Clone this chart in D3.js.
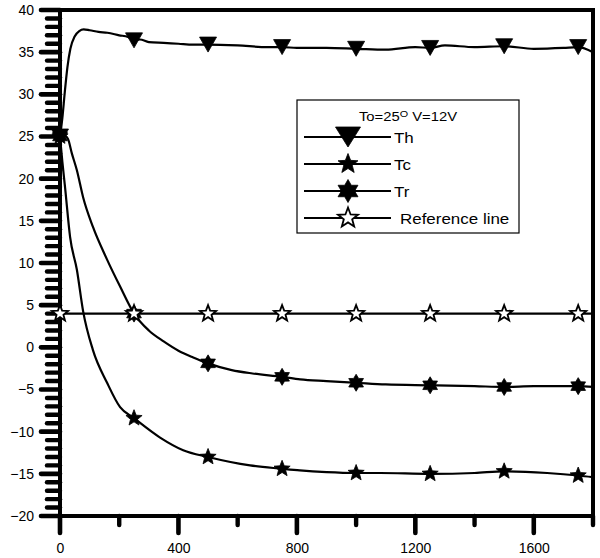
<!DOCTYPE html>
<html>
<head>
<meta charset="utf-8">
<script src="https://cdn.jsdelivr.net/npm/d3@7"></script>
<style>
  html, body { margin: 0; padding: 0; background: #fff; }
  svg { display: block; font-family: "Liberation Sans", Arial, sans-serif; }
</style>
</head>
<body>
<svg id="chart" width="600" height="558"></svg>
<script>
// Temperature histories (time, °C)
const thTime = [0, 8, 16, 25, 35, 50, 65, 80, 100, 130, 160, 200, 230, 250, 270, 300, 350, 400, 450, 500, 600, 700, 750, 800, 900, 1000, 1100, 1200, 1250, 1300, 1400, 1500, 1600, 1700, 1750, 1800];
const thVals = [25, 27.2, 30.2, 33.2, 35.4, 36.9, 37.5, 37.7, 37.6, 37.4, 37.3, 37.0, 36.8, 36.4, 36.5, 36.2, 36.1, 36.0, 35.9, 35.9, 35.8, 35.6, 35.6, 35.5, 35.5, 35.4, 35.3, 35.6, 35.5, 35.8, 35.6, 35.7, 35.4, 35.5, 35.6, 35.0];

const trTime = [0, 15, 27, 40, 57, 78, 111, 159, 203, 250, 300, 350, 400, 450, 500, 580, 650, 750, 811, 900, 1000, 1100, 1250, 1400, 1500, 1600, 1750, 1800];
const trVals = [25, 25.1, 24.7, 23.0, 21.0, 17.8, 14.3, 10.4, 7.2, 4.0, 2.0, 0.7, -0.4, -1.2, -1.9, -2.7, -3.1, -3.5, -3.8, -4.0, -4.2, -4.4, -4.5, -4.6, -4.7, -4.6, -4.6, -4.7];

const tcTime = [0, 8, 17, 34, 57, 78, 111, 159, 203, 250, 338, 416, 500, 642, 750, 810, 900, 1000, 1081, 1250, 1400, 1500, 1645, 1750, 1800];
const tcVals = [25, 22.0, 19.0, 13.1, 9.2, 4.3, -0.3, -4.2, -7.1, -8.4, -10.7, -12.2, -13.0, -14.0, -14.4, -14.6, -14.8, -14.9, -14.9, -15.0, -14.9, -14.7, -14.9, -15.2, -15.4];

const refTime = [0, 1800];
const refVals = [4, 4];

const markerTimes = [0, 250, 500, 750, 1000, 1250, 1500, 1750];

const xMajorTicks = [0, 400, 800, 1200, 1600];
const xMinorTicks = [200, 600, 1000, 1400, 1800];
const yMajorTicks = [-20, -15, -10, -5, 0, 5, 10, 15, 20, 25, 30, 35, 40];
const yMinorTicks = d3.range(-20, 41, 1).filter(v => v % 5 !== 0);

const legendTitle = "To=25";
const legendTitleSup = "O";
const legendTitleRest = " V=12V";
const seriesNames = ["Th", "Tc", "Tr", "Reference line"];

const svg = d3.select("#chart");
const x = d3.scaleLinear().domain([0, 1800]).range([60, 593]);
const y = d3.scaleLinear().domain([-20, 40]).range([516, 10]);

// marker shapes
function polyPath(pts) {
  return "M" + pts.map(p => p[0].toFixed(2) + "," + p[1].toFixed(2)).join("L") + "Z";
}
function triDown(w, h) {
  return polyPath([[-w / 2, -h / 2], [w / 2, -h / 2], [0, h / 2]]);
}
function star(n, R, r) {
  const pts = [];
  for (let i = 0; i < 2 * n; i++) {
    const a = -Math.PI / 2 + i * Math.PI / n;
    const rad = i % 2 === 0 ? R : r;
    pts.push([rad * Math.cos(a), rad * Math.sin(a)]);
  }
  return polyPath(pts);
}

const series = [
  { name: seriesNames[0], t: thTime, v: thVals, shape: triDown(17, 15), legendShape: triDown(25, 20), fill: "#000", tx: 394 },
  { name: seriesNames[1], t: tcTime, v: tcVals, shape: star(5, 8.5, 3.7), legendShape: star(5, 10.5, 4.5), fill: "#000", tx: 394 },
  { name: seriesNames[2], t: trTime, v: trVals, shape: star(6, 8.5, 5.0), legendShape: star(6, 11.5, 6.6), fill: "#000", tx: 394 },
  { name: seriesNames[3], t: refTime, v: refVals, shape: star(5, 8.5, 3.6), legendShape: star(5, 10.5, 4.4), fill: "#fff", tx: 400 }
];

// tick marks (thick, rounded)
const ticks = svg.append("g").attr("stroke", "#000").attr("stroke-linecap", "round");
ticks.append("g").attr("stroke-width", 4.4).selectAll("line").data(yMinorTicks).join("line")
  .attr("x1", x(0) - 13).attr("x2", x(0)).attr("y1", d => y(d)).attr("y2", d => y(d));
ticks.append("g").attr("stroke-width", 4.6).selectAll("line").data(yMajorTicks).join("line")
  .attr("x1", x(0) - 19).attr("x2", x(0)).attr("y1", d => y(d)).attr("y2", d => y(d));
ticks.append("g").attr("stroke-width", 4.4).selectAll("line").data(xMinorTicks).join("line")
  .attr("x1", d => x(d)).attr("x2", d => x(d)).attr("y1", y(-20)).attr("y2", y(-20) + 9);
ticks.append("g").attr("stroke-width", 4.6).selectAll("line").data(xMajorTicks).join("line")
  .attr("x1", d => x(d)).attr("x2", d => x(d)).attr("y1", y(-20)).attr("y2", y(-20) + 17);

// tick labels through d3 axes
const labelStyle = g => {
  g.select(".domain").remove();
  g.selectAll(".tick line").remove();
  g.selectAll(".tick text").attr("fill", "#000").attr("font-size", 14)
    .attr("font-family", "Liberation Sans, Arial, sans-serif");
};
svg.append("g").attr("transform", "translate(60,0)")
  .call(d3.axisLeft(y).tickValues(yMajorTicks).tickSize(19).tickPadding(7).tickFormat(d3.format("d")))
  .call(labelStyle);
svg.append("g").attr("transform", "translate(0,516)")
  .call(d3.axisBottom(x).tickValues(xMajorTicks).tickSize(17).tickPadding(10).tickFormat(d3.format("d")))
  .call(labelStyle);

// frame
svg.append("rect")
  .attr("x", x(0)).attr("y", y(40))
  .attr("width", x(1800) - x(0)).attr("height", y(-20) - y(40))
  .attr("fill", "none").attr("stroke", "#000").attr("stroke-width", 4);

// curves
const line = d3.line().x(d => x(d[0])).y(d => y(d[1])).curve(d3.curveMonotoneX);
const plot = svg.append("g");
series.forEach(s => {
  const pts = s.t.map((t, i) => [t, s.v[i]]);
  plot.append("path").datum(pts)
    .attr("d", line)
    .attr("fill", "none").attr("stroke", "#000").attr("stroke-width", 2.2);
});

// markers
function valueAt(s, t) {
  const i = s.t.indexOf(t);
  if (i >= 0) return s.v[i];
  return d3.scaleLinear().domain(s.t).range(s.v)(t);
}
series.forEach(s => {
  plot.append("g").selectAll("path").data(markerTimes).join("path")
    .attr("transform", t => `translate(${x(t)},${y(valueAt(s, t))})`)
    .attr("d", s.shape)
    .attr("fill", s.fill)
    .attr("stroke", "#000").attr("stroke-width", s.fill === "#fff" ? 1.8 : 0.8)
    .attr("stroke-linejoin", "miter");
});

// legend
const lg = svg.append("g");
lg.append("rect").attr("x", 297).attr("y", 100).attr("width", 222).attr("height", 133)
  .attr("fill", "#fff").attr("stroke", "#000").attr("stroke-width", 1.2);
const title = lg.append("text")
  .attr("transform", "translate(408,121) scale(1.14,1)")
  .attr("text-anchor", "middle")
  .attr("font-size", 13).attr("fill", "#000");
title.append("tspan").text(legendTitle);
title.append("tspan").attr("dy", -4).attr("font-size", 9.5).text(legendTitleSup);
title.append("tspan").attr("dy", 4).text(legendTitleRest);

const rowY = [137, 164, 191, 218];
series.forEach((s, i) => {
  const ry = rowY[i];
  lg.append("line").attr("x1", 304).attr("x2", 391).attr("y1", ry).attr("y2", ry)
    .attr("stroke", "#000").attr("stroke-width", 2.2);
  lg.append("path").attr("transform", `translate(348,${ry})`).attr("d", s.legendShape)
    .attr("fill", s.fill).attr("stroke", "#000").attr("stroke-width", s.fill === "#fff" ? 1.8 : 0.8);
  lg.append("text")
    .attr("transform", `translate(${s.tx},${ry + 5.5}) scale(1.13,1)`)
    .attr("font-size", 15).attr("fill", "#000").text(s.name);
});
</script>
</body>
</html>
